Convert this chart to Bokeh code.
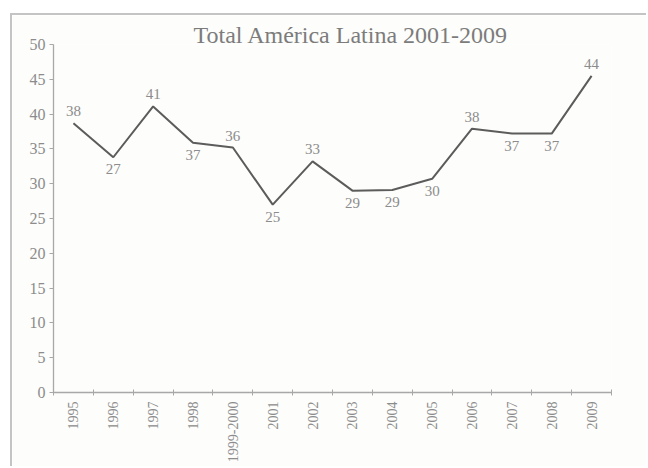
import numpy as np
from bokeh.plotting import figure
from bokeh.models import ColumnDataSource, FixedTicker, Range1d
from bokeh.embed import file_html
from bokeh.resources import INLINE

# ---- data ----
categories = ["1995", "1996", "1997", "1998", "1999-2000", "2001", "2002",
              "2003", "2004", "2005", "2006", "2007", "2008", "2009"]
values = [38.7, 33.8, 41.1, 35.9, 35.2, 27.0, 33.2, 29.0, 29.1, 30.7, 37.9, 37.2, 37.2, 45.5]
value_labels = ["38", "27", "41", "37", "36", "25", "33", "29", "29", "30", "38", "37", "37", "44"]
y_ticks = [0, 5, 10, 15, 20, 25, 30, 35, 40, 45, 50]
title_text = "Total América Latina 2001-2009"

# label placement (style): above or below the point
label_above = [True, False, True, False, True, False, True, False, False, False, True, False, False, True]

FONT = "Liberation Serif"
TEXT_GREY = "#8c8c8c"
AXIS_GREY = "#a8a8a8"
BG = "#fdfdfb"

xs = [i + 0.5 for i in range(len(categories))]
yoff = [-12 if a else 12 for a in label_above]

source = ColumnDataSource(dict(x=xs, y=values, label=value_labels, yoff=yoff))

p = figure(width=636, height=453, output_backend="svg", toolbar_location=None,
           x_range=Range1d(0, len(categories)), y_range=Range1d(0, 50),
           min_border_left=41, min_border_right=37, min_border_top=29, min_border_bottom=76,
           background_fill_color=BG, border_fill_color=BG, outline_line_color=None,
           margin=(13, 0, 0, 10),
           styles={"border-top": "2px solid #c4c4c4", "border-left": "2px solid #c4c4c4"})

p.line("x", "y", source=source, line_color="#5c5c5c", line_width=2)
p.text("x", "y", text="label", source=source, y_offset="yoff",
       text_align="center", text_baseline="middle",
       text_font={"value": FONT}, text_font_size="15px", text_color=TEXT_GREY)

# title
p.title.text = title_text
p.title.text_font = FONT
p.title.text_font_size = "24px"
p.title.text_font_style = "normal"
p.title.text_color = "#7c7c7c"
p.title.align = "left"
p.title.offset = 140
p.title.standoff = -6

# grids
p.xgrid.visible = False
p.ygrid.visible = False

# y axis
p.yaxis.ticker = FixedTicker(ticks=y_ticks, minor_ticks=[])
p.yaxis.axis_line_color = AXIS_GREY
p.yaxis.axis_line_width = 1.3
p.yaxis.major_tick_line_color = AXIS_GREY
p.yaxis.major_tick_in = 0
p.yaxis.major_tick_out = 4
p.yaxis.major_label_standoff = 4
p.yaxis.major_label_text_font = FONT
p.yaxis.major_label_text_font_size = "16px"
p.yaxis.major_label_text_color = TEXT_GREY

# x axis: labels at category centres, ticks at band edges
p.xaxis.ticker = FixedTicker(ticks=xs, minor_ticks=list(range(len(categories) + 1)))
p.xaxis.major_label_overrides = {x: c for x, c in zip(xs, categories)}
p.xaxis.major_label_orientation = np.pi / 2
p.xaxis.axis_line_color = AXIS_GREY
p.xaxis.axis_line_width = 1.3
p.xaxis.major_tick_in = 0
p.xaxis.major_tick_out = 0
p.xaxis.minor_tick_line_color = AXIS_GREY
p.xaxis.minor_tick_in = 3
p.xaxis.minor_tick_out = 3
p.xaxis.major_label_standoff = 6
p.xaxis.major_label_text_font = FONT
p.xaxis.major_label_text_font_size = "14px"
p.xaxis.major_label_text_color = TEXT_GREY

open("out.html", "w").write(file_html(p, INLINE))
